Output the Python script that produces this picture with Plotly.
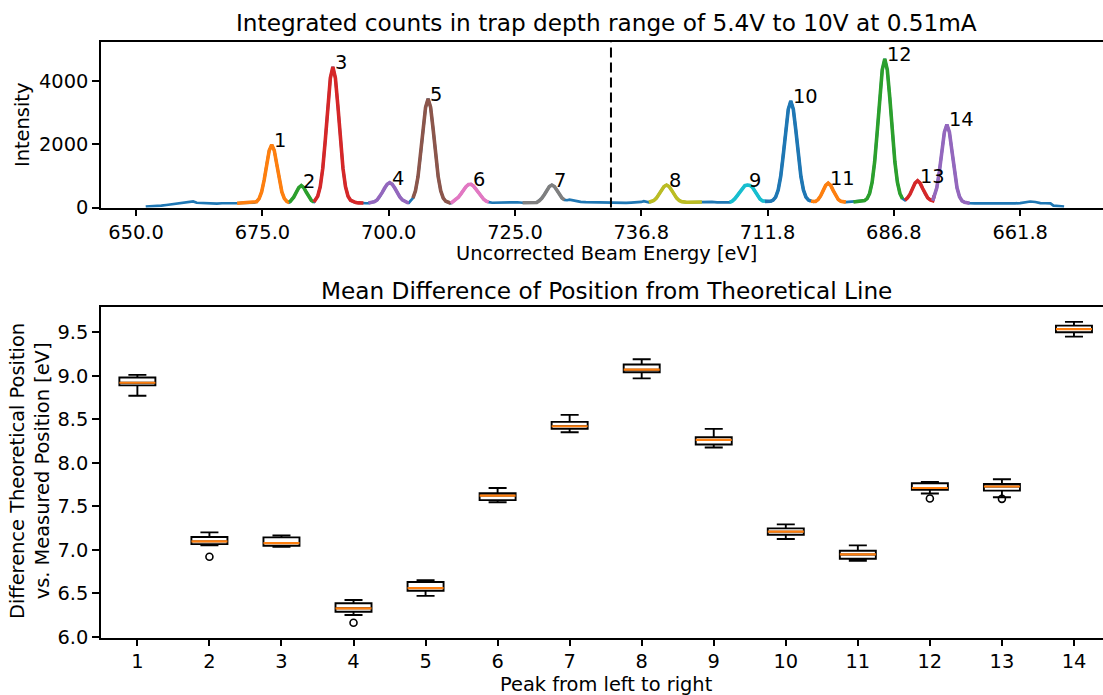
import plotly.graph_objects as go

# ---------------- data: top panel (spectrum along the sweep) ----------------
# sweep coordinate in eV (the axis runs up to the turning point and back down; ticks relabelled)
sweep_ev = [
    651.9, 653, 654, 655, 656, 657, 658, 659, 660, 660.7, 661.3, 662, 663, 664, 665, 666, 667, 668, 669, 670, 671, 672, 672.85,
    673.35, 673.85, 674.35, 674.85, 675.35, 675.85, 676.35, 676.85, 677.35, 677.85, 678.35, 678.85, 679.35, 679.85, 680.35,
    680.7, 681.2, 681.7, 682.2, 682.7, 683.2, 683.7, 684.2, 684.7, 685.2,
    685.45, 685.95, 686.45, 686.95, 687.45, 687.95, 688.45, 688.95, 689.45, 689.95, 690.45, 690.95, 691.45, 691.95, 692.45, 692.95,
    693.5, 694, 694.5, 695, 695.5, 696, 696.5,
    697.2, 697.7, 698.2, 698.7, 699.2, 699.7, 700.2, 700.7, 701.2, 701.7, 702.2, 702.7, 703.2, 703.7, 704.0,
    704.3, 704.8, 705.3, 705.8, 706.3, 706.8, 707.3, 707.8, 708.3, 708.8, 709.3, 709.8, 710.3, 710.8, 711.3, 711.8, 712.3,
    712.8, 713.3, 713.8, 714.3, 714.8, 715.3, 715.8, 716.3, 716.8, 717.3, 717.8, 718.3, 718.8, 719.3, 719.8,
    720.5, 721.5, 722.5, 723.5, 724.5, 725.5, 726.5, 727.5, 728.5, 729.3, 729.8,
    730.3, 730.8, 731.3, 731.8, 732.3, 732.8, 733.3, 733.8, 734.3, 734.8, 735.3, 735.8, 736.3, 737, 738, 739, 740, 741, 742, 743, 744,
    745, 746, 747, 748, 749, 750, 750.5, 751, 751.5, 752,
    752.5, 753, 753.5, 754, 754.5, 755, 755.5, 756, 756.5, 757, 757.5, 758, 759, 760, 761, 762, 763, 764, 765, 766, 767,
    767.5, 768, 768.5, 769, 769.5, 770, 770.5, 771, 771.5, 772, 772.5, 773, 773.5, 774, 774.5,
    775.1, 775.6, 776.1, 776.6, 777.1, 777.6, 778.1, 778.6, 779.1, 779.6, 780.1, 780.6, 781.1, 781.6, 782.1, 782.6, 783.1, 783.6, 784.1, 784.5,
    785.0, 785.5, 786.0, 786.5, 787.0, 787.5, 788.0, 788.5, 789.0, 789.5, 790.0, 790.5, 791, 791.5, 792, 792.5, 793, 793.5,
    794.2, 794.7, 795.2, 795.7, 796.2, 796.7, 797.2, 797.7, 798.2, 798.7, 799.2, 799.7, 800.2, 800.7, 801.2, 801.7, 802.2,
    802.7, 803.2, 803.7, 804.2, 804.7, 805.2, 805.7, 806.2, 806.7, 807.2, 807.7,
    808.0, 808.5, 809.0, 809.5, 810.0, 810.5, 811.0, 811.5, 812.0, 812.5, 813.0, 813.5, 814.0, 814.5, 815,
    816, 817, 818, 819, 820, 821, 822, 823, 824, 825, 826, 827, 828, 829, 830, 831, 831.6, 832.5, 833.7,
]
intensity = [
    25, 30, 45, 60, 80, 100, 110, 130, 150, 165, 190, 150, 140, 125, 135, 120, 135, 130, 140, 135, 145, 140, 150,
    155, 184, 280, 492, 869, 1361, 1804, 1985, 1804, 1361, 869, 492, 280, 190, 160,
    223, 326, 480, 629, 693, 629, 480, 326, 223, 175,
    230, 358, 658, 1236, 2130, 3196, 4095, 4450, 4095, 3196, 2130, 1236, 658, 358, 230, 180,
    155, 145, 140, 140, 135, 140, 150,
    185, 240, 336, 469, 616, 735, 785, 735, 616, 469, 336, 240, 185, 157, 150,
    196, 295, 525, 969, 1657, 2476, 3167, 3440, 3167, 2476, 1657, 969, 525, 295, 196, 160, 135,
    193, 245, 325, 432, 552, 660, 728, 735, 678, 576, 456, 345, 259, 202, 169,
    150, 155, 145, 160, 150, 165, 150, 145, 150, 160, 214,
    289, 406, 546, 663, 710, 663, 546, 406, 300, 240, 230, 250, 235, 200, 180, 170, 165, 160, 170, 155, 150,
    150, 160, 145, 155, 160, 175, 200, 170, 165, 185,
    223, 297, 412, 549, 664, 710, 664, 549, 412, 297, 223, 185, 165, 170, 160, 175, 190, 180, 165, 170, 160,
    165, 200, 270, 370, 490, 610, 690, 710, 700, 640, 520, 380, 270, 210, 195,
    192, 196, 235, 330, 553, 982, 1646, 2438, 3106, 3370, 3106, 2438, 1646, 982, 553, 330, 235, 200, 180, 190,
    251, 365, 534, 699, 770, 699, 534, 365, 251, 200, 180, 170, 175, 180, 175, 180, 185, 200,
    217, 279, 443, 799, 1444, 2386, 3464, 4353, 4700, 4353, 3464, 2386, 1444, 799, 443, 279, 230,
    304, 423, 600, 771, 845, 771, 600, 423, 304, 240, 215,
    380, 623, 1128, 1788, 2382, 2625, 2382, 1788, 1128, 623, 338, 209, 165, 145, 135,
    130, 135, 125, 130, 135, 130, 125, 135, 130, 140, 160, 190, 175, 140, 135, 130, 60, 40, 30,
]

# fitted windows (sweep coordinate) for peaks 1..14, left to right
fit_windows = [
    (669.5, 680.35), (680.35, 685.2), (685.2, 695.0), (696.0, 704.0), (704.8, 712.3),
    (712.3, 719.8), (726.5, 734.8), (751.5, 762.0), (767.5, 774.5), (774.5, 783.6),
    (783.6, 790.5), (792.0, 801.7), (802.2, 808.0), (807.7, 815.0),
]
peak_labels = [str(i) for i in range(1, 15)]

sweep_turn = 744.0
top_tickvals = [650, 675, 700, 725, 750, 775, 800, 825]
top_ticktext = ["650.0", "675.0", "700.0", "725.0", "736.8", "711.8", "686.8", "661.8"]

# ---------------- data: bottom panel (box statistics per peak) ----------------
peaks = list(range(1, 15))
whis_lo = [8.77, 7.05, 7.035, 6.25, 6.47, 7.546, 8.35, 8.97, 8.175, 7.123, 6.873, 7.646, 7.604, 9.45]
q1 = [8.89, 7.065, 7.046, 6.288, 6.527, 7.57, 8.39, 9.04, 8.21, 7.173, 6.896, 7.69, 7.68, 9.50]
medians = [8.92, 7.096, 7.077, 6.327, 6.558, 7.623, 8.42, 9.07, 8.263, 7.208, 6.946, 7.71, 7.727, 9.537]
q3 = [8.98, 7.146, 7.142, 6.385, 6.63, 7.65, 8.47, 9.13, 8.294, 7.246, 6.988, 7.764, 7.756, 9.576]
whis_hi = [9.01, 7.20, 7.165, 6.423, 6.65, 7.71, 8.55, 9.19, 8.39, 7.292, 7.05, 7.78, 7.81, 9.62]
outlier_peak = [2, 4, 12, 13]
outlier_val = [6.92, 6.16, 7.59, 7.585]

# ---------------- styling ----------------
FONT = "DejaVu Sans"
TICK = 19.4
TITLE = 23.2
C0 = "#1f77b4"
cycle = ["#ff7f0e", "#2ca02c", "#d62728", "#9467bd", "#8c564b", "#e377c2", "#7f7f7f",
         "#bcbd22", "#17becf", "#1f77b4", "#ff7f0e", "#2ca02c", "#d62728", "#9467bd"]

W, H = 1103, 695
fig = go.Figure()

fig.add_trace(go.Scatter(x=sweep_ev, y=intensity, mode="lines",
                         line=dict(color=C0, width=2.7), xaxis="x", yaxis="y", showlegend=False))

annotations = []
for i, (lo, hi) in enumerate(fit_windows):
    idx = [k for k, u in enumerate(sweep_ev) if lo <= u <= hi]
    xs = [sweep_ev[k] for k in idx]
    ys = [intensity[k] for k in idx]
    fig.add_trace(go.Scatter(x=xs, y=ys, mode="lines", line=dict(color=cycle[i], width=3.6),
                             xaxis="x", yaxis="y", showlegend=False))
    kmax = max(idx, key=lambda k: intensity[k])
    annotations.append(dict(x=sweep_ev[kmax], y=intensity[kmax], xref="x", yref="y",
                            text=peak_labels[i], showarrow=False, xanchor="left", yanchor="bottom",
                            yshift=-9, xshift=0, font=dict(family=FONT, size=TICK, color="black")))

# boxes
fig.add_trace(go.Box(x=peaks, q1=q1, median=medians, q3=q3, lowerfence=whis_lo, upperfence=whis_hi,
                     xaxis="x2", yaxis="y2", width=0.5, whiskerwidth=0.5, boxpoints=False,
                     fillcolor="rgba(0,0,0,0)", line=dict(color="black", width=1.9), showlegend=False,
                     hoverinfo="skip"))
half = 0.25
mx, my = [], []
for p, m in zip(peaks, medians):
    mx += [p - half, p + half, None]
    my += [m, m, None]
fig.add_trace(go.Scatter(x=mx, y=my, mode="lines", line=dict(color="#ff7f0e", width=2.2),
                         xaxis="x2", yaxis="y2", showlegend=False))
fig.add_trace(go.Scatter(x=outlier_peak, y=outlier_val, mode="markers",
                         marker=dict(symbol="circle-open", size=7, color="black", line=dict(width=1.6)),
                         xaxis="x2", yaxis="y2", showlegend=False))

# dashed turning-point line
fig.add_shape(type="line", xref="x", yref="y domain", x0=sweep_turn, x1=sweep_turn, y0=0, y1=1,
              line=dict(color="black", width=2, dash="10px,5px"))

L, R = 101, 0
def px_x(x):  # pixel -> paper x
    return (x - L) / (W - L - R)
def px_y(y):  # pixel (from top) -> paper y
    return 1 - y / H

txt = dict(family=FONT, color="black")
annotations += [
    dict(x=px_x(606), y=px_y(23), xref="paper", yref="paper", showarrow=False, xanchor="center", yanchor="middle",
         text="Integrated counts in trap depth range of 5.4V to 10V at 0.51mA", font=dict(size=TITLE, **txt)),
    dict(x=px_x(606), y=px_y(253), xref="paper", yref="paper", showarrow=False, xanchor="center", yanchor="middle",
         text="Uncorrected Beam Energy [eV]", font=dict(size=TICK, **txt)),
    dict(x=px_x(22), y=px_y(125), xref="paper", yref="paper", showarrow=False, xanchor="center", yanchor="middle",
         text="Intensity", textangle=-90, font=dict(size=TICK, **txt)),
    dict(x=px_x(606), y=px_y(290), xref="paper", yref="paper", showarrow=False, xanchor="center", yanchor="middle",
         text="Mean Difference of Position from Theoretical Line", font=dict(size=TITLE, **txt)),
    dict(x=px_x(606), y=px_y(684), xref="paper", yref="paper", showarrow=False, xanchor="center", yanchor="middle",
         text="Peak from left to right", font=dict(size=TICK, **txt)),
    dict(x=px_x(30), y=px_y(471), xref="paper", yref="paper", showarrow=False, xanchor="center", yanchor="middle",
         text="Difference Theoretical Position<br>vs. Measured Position [eV]", textangle=-90,
         font=dict(size=TICK, **txt)),
]

axis_common = dict(showgrid=False, zeroline=False, showline=True, linecolor="black", linewidth=1.5,
                   ticks="outside", ticklen=7, tickwidth=1.5, tickcolor="black", automargin=False,
                   tickfont=dict(family=FONT, size=TICK, color="black"))

fig.update_layout(
    width=W, height=H, autosize=False,
    margin=dict(l=L, r=R, t=0, b=0, pad=0, autoexpand=False),
    paper_bgcolor="white", plot_bgcolor="white",
    font=dict(family=FONT, color="black"),
    showlegend=False,
    annotations=annotations,
    xaxis=dict(domain=[0, 1], anchor="y", range=[643.05, 841.4], tickvals=top_tickvals, ticktext=top_ticktext,
               mirror=True, ticklabelstandoff=-1, **axis_common),
    yaxis=dict(domain=[(H - 207.5) / H, (H - 42.3) / H], anchor="x", range=[0, 5225],
               tickvals=[0, 2000, 4000], mirror=False, **axis_common),
    xaxis2=dict(domain=[0, 1], anchor="y2", range=[0.495, 14.403], tickvals=peaks,
                mirror=True, ticklabelstandoff=-2, **axis_common),
    yaxis2=dict(domain=[(H - 637.7) / H, (H - 306.7) / H], anchor="x2", range=[5.989, 9.794],
                tickvals=[6.0, 6.5, 7.0, 7.5, 8.0, 8.5, 9.0, 9.5], tickformat=".1f", mirror=False, **axis_common),
)

fig.write_html("out.html")
